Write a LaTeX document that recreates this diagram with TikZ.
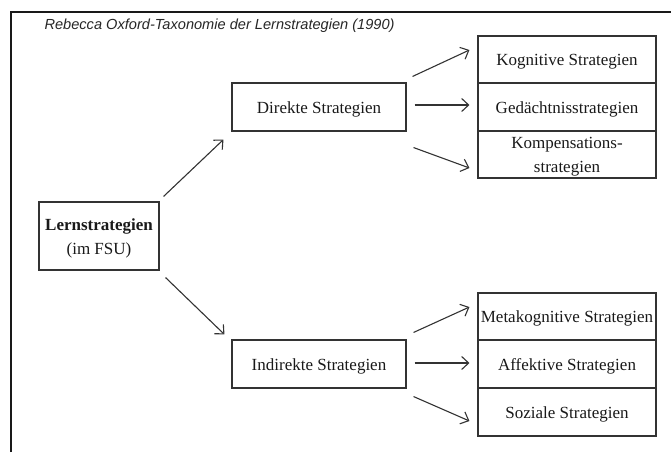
\documentclass[tikz,border=0pt]{standalone}
\usepackage{fontspec}
\setmainfont{Liberation Serif}
\newfontfamily\titlefont{Liberation Sans}
\usetikzlibrary{arrows.meta,calc}
\begin{document}
\begin{tikzpicture}[x=1pt,y=-1pt,
  box/.style={draw=black!80,line width=1.1pt,inner sep=0pt,
    text height=12pt,text depth=0pt,
    font=\fontsize{17}{24}\selectfont,text=black!90},
  twoline/.style={text depth=24pt},
  conn/.style={draw=black!80,line width=1.1pt,-{Straight Barb[length=7pt,width=13pt,line width=1.1pt]}},
  frameline/.style={draw=black!90,line width=1.8pt}]
\useasboundingbox (0,0) rectangle (671,452);
\draw[frameline] (11,452) -- (11,12) -- (671,12);
\node[anchor=west,font=\titlefont\itshape\fontsize{14.6}{16}\selectfont,text=black!85] (title) at (41,26) {Rebecca Oxford-Taxonomie der Lernstrategien (1990)};

\node[box,twoline,minimum width=120pt,minimum height=68pt] (lern) at (99,236) {\begin{tabular}[t]{@{}c@{}}\textbf{Lernstrategien}\\(im FSU)\end{tabular}};
\node[box,minimum width=174pt,minimum height=48pt] (direkt) at (319,107) {Direkte Strategien};
\node[box,minimum width=174pt,minimum height=48pt] (indirekt) at (319,364) {Indirekte Strategien};

\node[box,minimum width=178pt,minimum height=47pt] (kog) at (567,59.5) {Kognitive Strategien};
\node[box,minimum width=178pt,minimum height=48pt] (ged) at (567,107) {Gedächtnisstrategien};
\node[box,twoline,minimum width=178pt,minimum height=47pt] (komp) at (567,154.5) {\begin{tabular}[t]{@{}c@{}}Kompensations-\\strategien\end{tabular}};

\node[box,minimum width=178pt,minimum height=47pt] (meta) at (567,316.5) {Metakognitive Strategien};
\node[box,minimum width=178pt,minimum height=48pt] (aff) at (567,364) {Affektive Strategien};
\node[box,minimum width=178pt,minimum height=48pt] (soz) at (567,412) {Soziale Strategien};

\draw[conn] ($(lern.north east)+(4,-5)$) -- ($(direkt.south west)+(-8,8)$);
\draw[conn] ($(lern.south east)+(6,7)$) -- ($(indirekt.north west)+(-7,-5)$);

\draw[conn] ($(direkt.north east)+(6,-6)$) -- ($(kog.west)+(-8,-9.5)$);
\draw[conn] ($(direkt.east)+(8,-2)$) -- ($(ged.west)+(-8,-2)$);
\draw[conn] ($(direkt.south east)+(7,16)$) -- ($(komp.west)+(-8,13.5)$);

\draw[conn] ($(indirekt.north east)+(7,-7)$) -- ($(meta.west)+(-8,-9.5)$);
\draw[conn] ($(indirekt.east)+(8,-1)$) -- ($(aff.west)+(-8,-1)$);
\draw[conn] ($(indirekt.south east)+(7,8)$) -- ($(soz.west)+(-8,9)$);
\end{tikzpicture}
\end{document}
